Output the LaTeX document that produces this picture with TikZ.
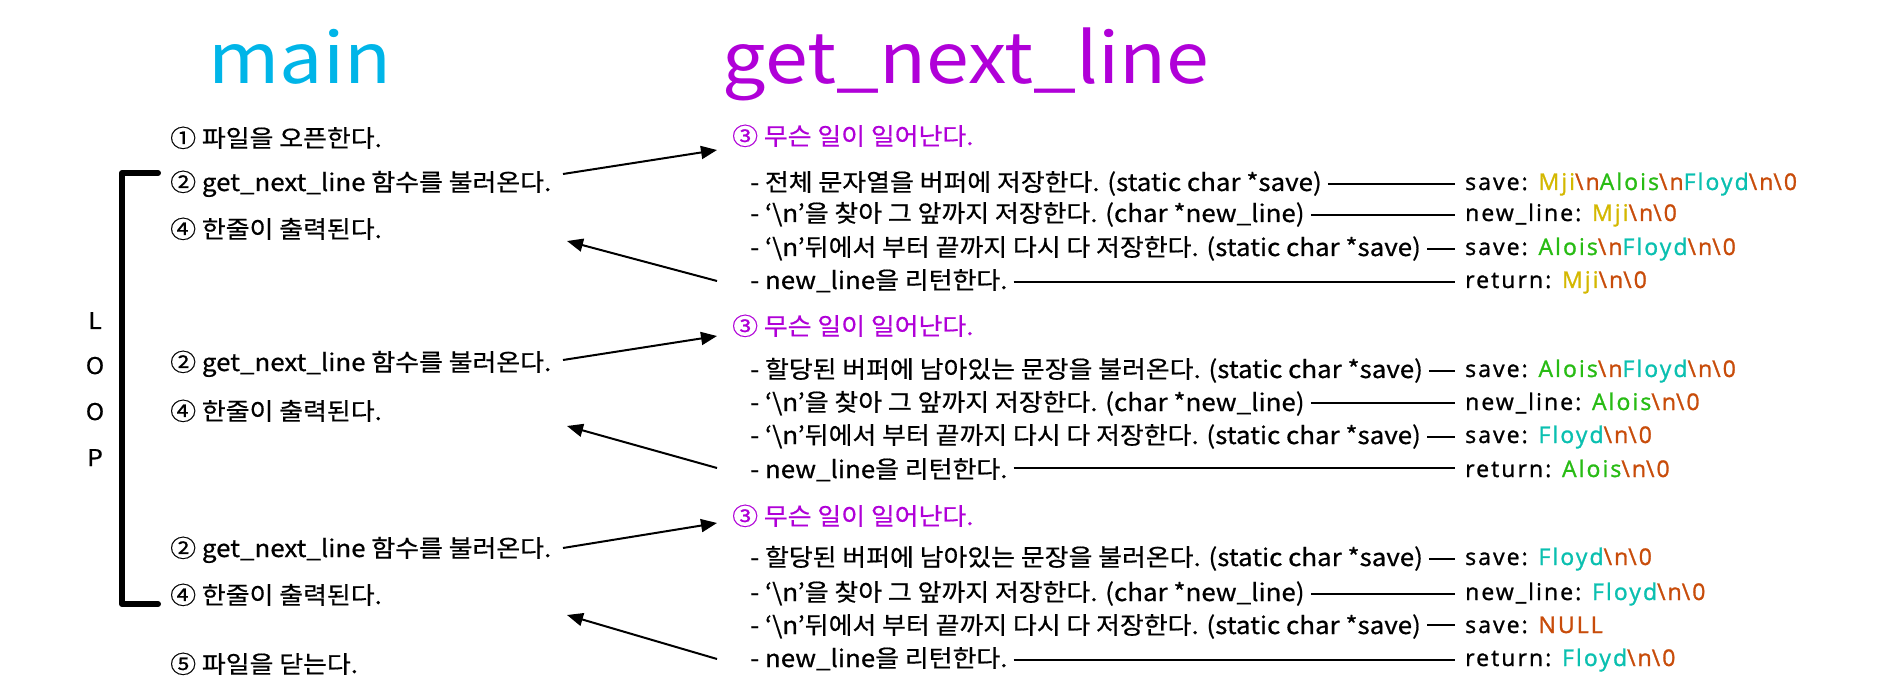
\documentclass[tikz,border=0pt]{standalone}
\usepackage{fontspec}
\setmainfont[FakeStretch=1.08,FakeBold=0.6]{Noto Sans CJK KR}
\newfontfamily\titlefont[FakeStretch=1.1]{Noto Sans CJK KR}
\newfontfamily\labfont[LetterSpace=9,FakeBold=1.2]{Open Sans}
\usetikzlibrary{arrows.meta}
\definecolor{maincol}{RGB}{0,181,232}
\definecolor{gnlcol}{RGB}{176,0,216}
\definecolor{mjic}{RGB}{212,184,0}
\definecolor{aloc}{RGB}{40,188,20}
\definecolor{floc}{RGB}{10,192,176}
\definecolor{nlc}{RGB}{200,76,10}
\newcommand\cN{\textcolor{nlc}{\textbackslash n}}
\newcommand\cZ{\textcolor{nlc}{\textbackslash 0}}
\newcommand\cM{\textcolor{mjic}{Mji}}
\newcommand\cA{\textcolor{aloc}{Alois}}
\newcommand\cF{\textcolor{floc}{Floyd}}
\newcommand\bsl{\textbackslash}
\begin{document}
\begin{tikzpicture}[x=1pt,y=-1pt,
  txt/.style={anchor=base west,inner sep=0pt,font=\fontsize{24}{28}\selectfont},
  lab/.style={anchor=base west,inner sep=0pt,font=\labfont\fontsize{23}{26}\selectfont},
  head/.style={txt,text=gnlcol},
  title/.style={anchor=base,inner sep=0pt,font=\titlefont\fontsize{70}{80}\selectfont},
  conn/.style={line width=2pt,shorten <=6pt,shorten >=10pt},
  arr/.style={line width=2pt,-{Triangle[length=16pt,width=13pt]}},
  loopl/.style={anchor=base,inner sep=0pt,font=\fontsize{23}{28}\selectfont}]
\fill[white] (0,0) rectangle (1890,700);
\useasboundingbox (0,0) rectangle (1890,700);
% titles
\node[title,text=maincol] (tmain) at (300,84) {main};
\node[title,text=gnlcol] (tgnl) at (966,84) {get\_next\_line};
% left column
\node[txt] (l1) at (170,147) {① 파일을 오픈한다.};
\node[txt] (l2) at (170,191) {② get\_next\_line 함수를 불러온다.};
\node[txt] (l3) at (170,238) {④ 한줄이 출력된다.};
\node[txt] (l4) at (170,371) {② get\_next\_line 함수를 불러온다.};
\node[txt] (l5) at (170,420) {④ 한줄이 출력된다.};
\node[txt] (l6) at (170,557) {② get\_next\_line 함수를 불러온다.};
\node[txt] (l7) at (170,604) {④ 한줄이 출력된다.};
\node[txt] (l8) at (170,673) {⑤ 파일을 닫는다.};
% loop
\node[loopl] (lL) at (95,329) {L};
\node[loopl] (lO1) at (95,374) {O};
\node[loopl] (lO2) at (95,420) {O};
\node[loopl] (lP) at (95,466) {P};
\draw[line width=6pt,line cap=round,line join=round] (158,173) -- (122,173) -- (122,604) -- (158,604);
% headings
\node[head] (h1) at (732,145) {③ 무슨 일이 일어난다.};
\node[head] (h2) at (732,335) {③ 무슨 일이 일어난다.};
\node[head] (h3) at (732,525) {③ 무슨 일이 일어난다.};
% block 1
\node[txt] (r11) at (750,191) {- 전체 문자열을 버퍼에 저장한다. (static char *save)};
\node[txt] (r12) at (750,222) {- ‘\bsl n’을 찾아 그 앞까지 저장한다. (char *new\_line)};
\node[txt] (r13) at (750,256) {- ‘\bsl n’뒤에서 부터 끝까지 다시 다 저장한다. (static char *save)};
\node[txt] (r14) at (750,289) {- new\_line을 리턴한다.};
\node[lab] (s11) at (1465,190) {save: \cM\cN\cA\cN\cF\cN\cZ};
\node[lab] (s12) at (1465,221) {new\_line: \cM\cN\cZ};
\node[lab] (s13) at (1465,255) {save: \cA\cN\cF\cN\cZ};
\node[lab] (s14) at (1465,288) {return: \cM\cN\cZ};
% block 2
\node[txt] (r21) at (750,378) {- 할당된 버퍼에 남아있는 문장을 불러온다. (static char *save)};
\node[txt] (r22) at (750,411) {- ‘\bsl n’을 찾아 그 앞까지 저장한다. (char *new\_line)};
\node[txt] (r23) at (750,444) {- ‘\bsl n’뒤에서 부터 끝까지 다시 다 저장한다. (static char *save)};
\node[txt] (r24) at (750,478) {- new\_line을 리턴한다.};
\node[lab] (s21) at (1465,377) {save: \cA\cN\cF\cN\cZ};
\node[lab] (s22) at (1465,410) {new\_line: \cA\cN\cZ};
\node[lab] (s23) at (1465,443) {save: \cF\cN\cZ};
\node[lab] (s24) at (1465,477) {return: \cA\cN\cZ};
% block 3
\node[txt] (r31) at (750,566) {- 할당된 버퍼에 남아있는 문장을 불러온다. (static char *save)};
\node[txt] (r32) at (750,601) {- ‘\bsl n’을 찾아 그 앞까지 저장한다. (char *new\_line)};
\node[txt] (r33) at (750,634) {- ‘\bsl n’뒤에서 부터 끝까지 다시 다 저장한다. (static char *save)};
\node[txt] (r34) at (750,667) {- new\_line을 리턴한다.};
\node[lab] (s31) at (1465,565) {save: \cF\cN\cZ};
\node[lab] (s32) at (1465,600) {new\_line: \cF\cN\cZ};
\node[lab] (s33) at (1465,633) {save: \textcolor{nlc}{NULL}};
\node[lab] (s34) at (1465,666) {return: \cF\cN\cZ};
% connectors
\foreach \i in {11,12,13,14,21,22,23,24,31,32,33,34}{
  \draw[conn] (r\i.east |- s\i.west) -- (s\i.west);
}
% arrows
\coordinate (a1s) at (563,174); \coordinate (a1e) at (717,150);
\coordinate (b1s) at (717,281); \coordinate (b1e) at (567,241);
\coordinate (a2s) at (563,360); \coordinate (a2e) at (717,336);
\coordinate (b2s) at (717,468); \coordinate (b2e) at (567,426);
\coordinate (a3s) at (563,548); \coordinate (a3e) at (717,523);
\coordinate (b3s) at (717,659); \coordinate (b3e) at (567,615);
\draw[arr] (a1s) -- (a1e);
\draw[arr] (b1s) -- (b1e);
\draw[arr] (a2s) -- (a2e);
\draw[arr] (b2s) -- (b2e);
\draw[arr] (a3s) -- (a3e);
\draw[arr] (b3s) -- (b3e);
\end{tikzpicture}
\end{document}
